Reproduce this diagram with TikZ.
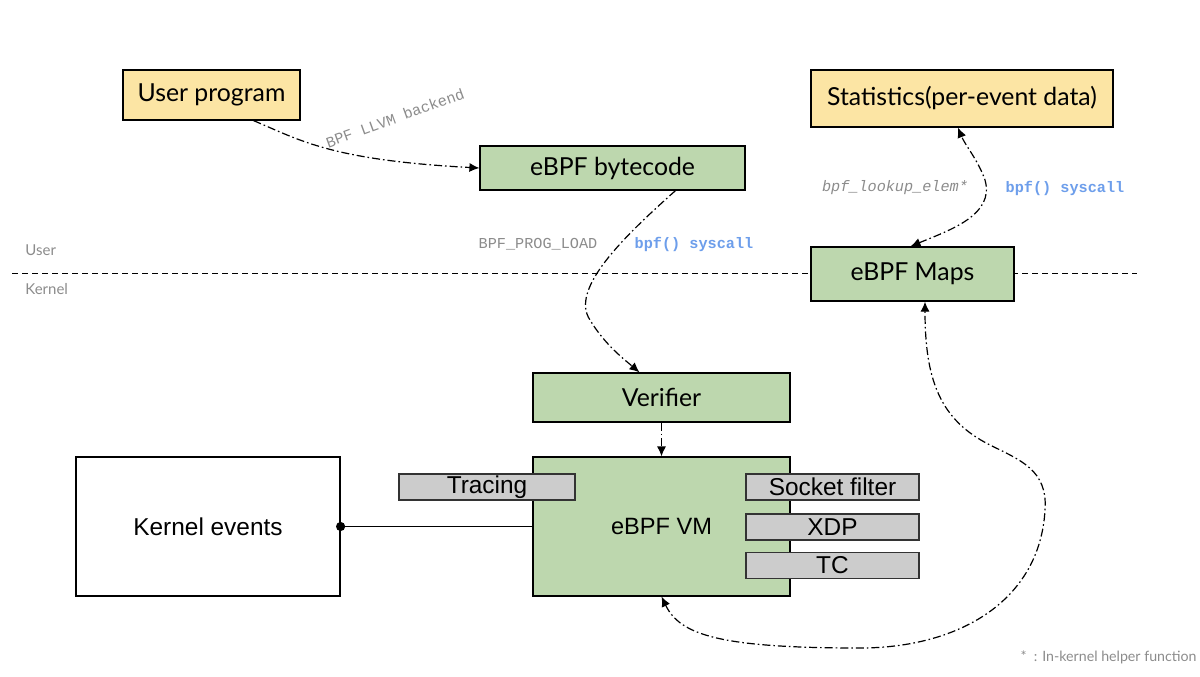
\documentclass[tikz,border=0pt]{standalone}
\usepackage{fontspec}
\setmainfont{Lato}
\newfontfamily\monof{Liberation Mono}
\newfontfamily\arialf{Liberation Sans}
\usetikzlibrary{arrows.meta}
\definecolor{ylw}{HTML}{FCE5A4}
\definecolor{grn}{HTML}{BDD7AE}
\definecolor{gry}{HTML}{CCCCCC}
\definecolor{lbl}{HTML}{8C8C8C}
\definecolor{blu}{HTML}{6D9EEB}
\tikzset{
  box/.style={draw=black, line width=0.6pt, inner sep=0pt, font=\fontsize{12.4}{14}\selectfont},
  ybox/.style={box, fill=ylw},
  gbox/.style={box, fill=grn},
  tab/.style={draw=black!80, line width=0.6pt, fill=gry, inner sep=0pt, font=\arialf\fontsize{12.2}{14}\selectfont},
  flow/.style={line width=0.6pt, dash pattern=on 4pt off 1.5pt on 0.8pt off 1.5pt, -{Latex[length=5pt,width=4.5pt]}},
  biflow/.style={flow, {Latex[length=5pt,width=4.5pt]}-{Latex[length=5pt,width=4.5pt]}},
  mlabel/.style={text=lbl, font=\monof\fontsize{7.6}{9}\selectfont, inner sep=1pt},
  blabel/.style={text=blu, font=\monof\bfseries\fontsize{7.6}{9}\selectfont, inner sep=1pt},
  side/.style={text=lbl, font=\fontsize{7.5}{9}\selectfont, inner sep=0pt, anchor=west},
}
\begin{document}
\begin{tikzpicture}[x=0.5pt, y=-0.5pt]
\useasboundingbox[fill=white] (0,0) rectangle (1200,676);
% user/kernel separator
\draw[line width=0.5pt, dash pattern=on 3pt off 2pt] (12,273) -- (1137,273);
\node[side] (user) at (25,250) {User};
\node[side] (kernel) at (25,289) {Kernel};
% boxes
\node[ybox, minimum width=177*0.5pt, minimum height=50*0.5pt] (up) at (211.5,95) {User program};
\node[gbox, minimum width=265*0.5pt, minimum height=44*0.5pt] (bc) at (612.5,168) {eBPF bytecode};
\node[ybox, minimum width=302*0.5pt, minimum height=57*0.5pt] (st) at (962,98.5) {Statistics(per-event data)};
\node[gbox, minimum width=203*0.5pt, minimum height=54*0.5pt] (maps) at (912.5,274) {eBPF Maps};
\node[gbox, minimum width=257*0.5pt, minimum height=49*0.5pt] (ver) at (661.5,397.5) {Verifier};
\node[gbox, minimum width=257*0.5pt, minimum height=139*0.5pt, font=\arialf\fontsize{11.8}{14}\selectfont] (vm) at (661.5,526.5) {eBPF VM};
\node[box, fill=white, minimum width=264*0.5pt, minimum height=139*0.5pt, font=\arialf\fontsize{12.2}{14}\selectfont] (ke) at (208,526.5) {Kernel events};
\node[tab, minimum width=176*0.5pt, minimum height=26*0.5pt] (tr) at (487,487) {Tracing};
\node[tab, minimum width=173*0.5pt, minimum height=26*0.5pt] (sf) at (832.5,487) {Socket filter};
\node[tab, minimum width=173*0.5pt, minimum height=26*0.5pt] (xdp) at (832.5,527) {XDP};
\node[tab, minimum width=173*0.5pt, minimum height=26*0.5pt] (tc) at (832.5,565.5) {TC};
% kernel events -> VM
\fill (ke.east) circle (2.3pt);
\draw[line width=0.6pt] (ke.east) -- (vm.west);
% flows
\draw[flow] ([xshift=21pt]up.south) .. controls (300,140) and (330,160) .. (bc.west);
\node[mlabel, rotate=20] (llvm) at (395,118) {BPF LLVM backend};
\draw[flow] ([xshift=31.5pt]bc.south) .. controls (620,240) and (570,290) .. (590,320) .. controls (605,345) and (625,360) .. ([xshift=-11pt]ver.north);
\node[mlabel] (load) at (538,244) {BPF\_PROG\_LOAD};
\node[blabel] (sys1) at (694,244) {bpf() syscall};
\draw[flow] (ver.south) -- (vm.north);
\draw[biflow] ([xshift=-1pt]maps.north) .. controls (950,230) and (995,215) .. (985,180) .. controls (978,160) and (965,145) .. ([xshift=-2pt]st.south);
\node[mlabel, font=\monof\itshape\fontsize{7.6}{9}\selectfont] (lookup) at (895,188) {bpf\_lookup\_elem*};
\node[blabel] (sys2) at (1065,188) {bpf() syscall};
\draw[biflow] (vm.south) .. controls (680,635) and (720,648) .. (860,648) .. controls (960,648) and (1040,600) .. (1045,510) .. controls (1048,470) and (1020,460) .. (990,445) .. controls (940,420) and (925,380) .. ([xshift=6.25pt]maps.south);
% footnote
\node[text=lbl, font=\fontsize{7.1}{8}\selectfont, anchor=east, inner sep=0pt] (note) at (1197,657) {*\ \ : In-kernel helper function};
\end{tikzpicture}
\end{document}
